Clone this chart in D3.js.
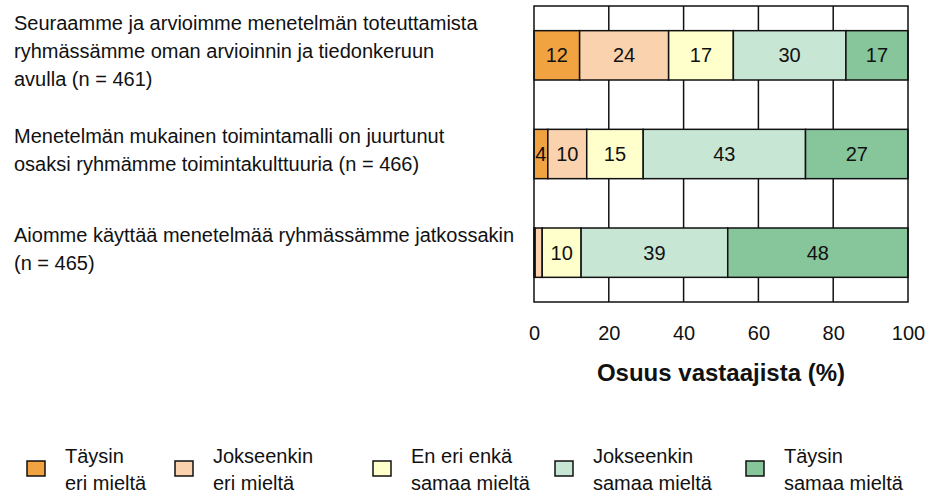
<!DOCTYPE html>
<html>
<head>
<meta charset="utf-8">
<script src="https://cdn.jsdelivr.net/npm/d3@7"></script>
<style>
  body { margin: 0; background: #fff; }
  text { font-family: "Liberation Sans", Arial, sans-serif; fill: #111; }
</style>
</head>
<body>
<svg id="chart" width="936" height="495"></svg>
<script>
// statements, wrapped as in the original
var questions = [
    ["Seuraamme ja arvioimme menetelmän toteuttamista", "ryhmässämme oman arvioinnin ja tiedonkeruun", "avulla (n = 461)"],
    ["Menetelmän mukainen toimintamalli on juurtunut", "osaksi ryhmämme toimintakulttuuria (n = 466)"],
    ["Aiomme käyttää menetelmää ryhmässämme jatkossakin", "(n = 465)"]
];
var categories = ["Täysin eri mieltä", "Jokseenkin eri mieltä", "En eri enkä samaa mieltä", "Jokseenkin samaa mieltä", "Täysin samaa mieltä"];
var legendLines = [["Täysin", "eri mieltä"], ["Jokseenkin", "eri mieltä"], ["En eri enkä", "samaa mieltä"], ["Jokseenkin", "samaa mieltä"], ["Täysin", "samaa mieltä"]];
var colors = ["#F2A341", "#FAD3AE", "#FFFFCB", "#C8E6D4", "#87C59B"];

// shares (%); labels show the rounded value
var row1 = [12.2, 23.8, 17.3, 30.1, 16.6];
var row2 = [3.7, 10.4, 15.1, 43.4, 27.4];
var row3 = [0.3, 1.9, 10.4, 39.2, 48.2];
var values = [row1, row2, row3];

var xTicks = [0, 20, 40, 60, 80, 100];
var axisTitle = "Osuus vastaajista (%)";

var plotLeft = 534,
    plotRight = 908,
    plotTop = 6,
    plotBottom = 302;

var svg = d3.select("#chart");

var x = d3.scaleLinear().domain([0, 100]).range([plotLeft, plotRight]);
var y = d3.scaleBand().domain(d3.range(questions.length)).range([plotTop, plotBottom])
    .paddingInner(0.5).paddingOuter(0.25);

// gridlines behind bars
svg.append("g").selectAll("line")
    .data(xTicks.slice(1, -1))
    .enter().append("line")
    .attr("x1", function(d) { return x(d); })
    .attr("x2", function(d) { return x(d); })
    .attr("y1", plotTop).attr("y2", plotBottom)
    .attr("stroke", "#111").attr("stroke-width", 1.5);

// stacked segments
var stacked = values.map(function(row, i) {
    var acc = 0;
    return row.map(function(v, j) {
        var s = { row: i, cat: j, v: v, x0: acc, x1: acc + v };
        acc += v;
        return s;
    });
});
var segs = d3.merge(stacked).filter(function(d) { return d.v > 0; });

svg.append("g").selectAll("rect")
    .data(segs)
    .enter().append("rect")
    .attr("x", function(d) { return x(d.x0); })
    .attr("width", function(d) { return x(d.x1) - x(d.x0); })
    .attr("y", function(d) { return y(d.row); })
    .attr("height", y.bandwidth())
    .attr("fill", function(d) { return colors[d.cat]; })
    .attr("stroke", "#111").attr("stroke-width", 1.5);

svg.append("g").selectAll("text")
    .data(segs.filter(function(d) { return d.v >= 3; }))
    .enter().append("text")
    .attr("x", function(d) { return (x(d.x0) + x(d.x1)) / 2; })
    .attr("y", function(d) { return y(d.row) + y.bandwidth() / 2; })
    .attr("dy", "0.35em")
    .attr("text-anchor", "middle")
    .style("font-size", "20px")
    .text(function(d) { return Math.round(d.v); });

// frame
svg.append("rect")
    .attr("x", plotLeft).attr("y", plotTop)
    .attr("width", plotRight - plotLeft).attr("height", plotBottom - plotTop)
    .attr("fill", "none").attr("stroke", "#111").attr("stroke-width", 1.5);

// x axis
var xAxis = svg.append("g")
    .attr("transform", "translate(0," + plotBottom + ")")
    .call(d3.axisBottom(x).tickValues(xTicks).tickSize(0).tickPadding(24));
xAxis.select(".domain").remove();
xAxis.selectAll("text")
    .style("font-size", "20px")
    .style("font-family", "Liberation Sans, Arial, sans-serif")
    .attr("fill", "#111");

svg.append("text")
    .attr("x", (plotLeft + plotRight) / 2)
    .attr("y", 381)
    .attr("text-anchor", "middle")
    .style("font-size", "24px")
    .style("font-weight", "bold")
    .text(axisTitle);

// question labels
var lineH = 28;
questions.forEach(function(lines, i) {
    var cy = y(i) + y.bandwidth() / 2 - 4;
    var t = svg.append("text")
        .attr("x", 14)
        .style("font-size", "20px");
    lines.forEach(function(l, k) {
        t.append("tspan")
            .attr("x", 14)
            .attr("y", cy + (k - (lines.length - 1) / 2) * lineH)
            .attr("dy", "0.35em")
            .text(l);
    });
});

// legend
var legendX = [27, 175, 373, 555, 746];
var legend = svg.append("g").selectAll("g")
    .data(categories)
    .enter().append("g")
    .attr("transform", function(d, i) { return "translate(" + legendX[i] + ",461)"; });

legend.append("rect")
    .attr("width", 18).attr("height", 15)
    .attr("fill", function(d, i) { return colors[i]; })
    .attr("stroke", "#111").attr("stroke-width", 1.5);

legend.append("text")
    .style("font-size", "20px")
    .each(function(d, i) {
        var t = d3.select(this);
        legendLines[i].forEach(function(l, k) {
            t.append("tspan")
                .attr("x", 38)
                .attr("y", -5 + k * 27)
                .attr("dy", "0.35em")
                .text(l);
        });
    });
</script>
</body>
</html>
